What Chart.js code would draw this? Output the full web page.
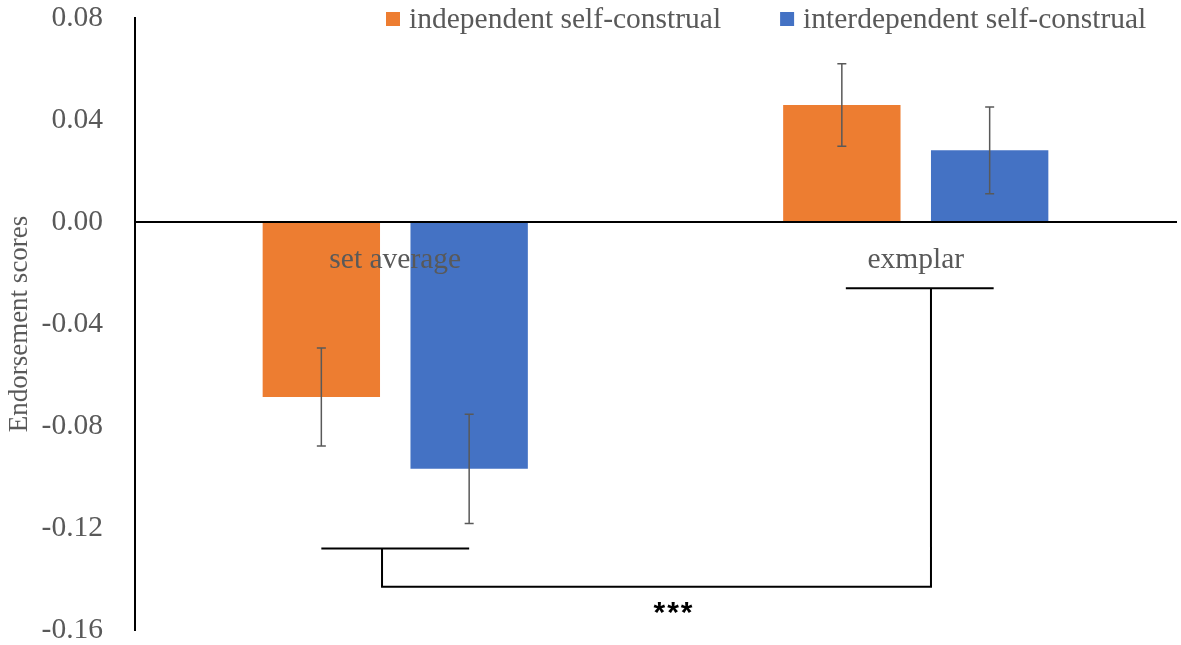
<!DOCTYPE html>
<html>
<head>
<meta charset="utf-8">
<script src="https://cdn.jsdelivr.net/npm/chart.js@4.4.1/dist/chart.umd.min.js"></script>
<style>
  html, body { margin:0; padding:0; background:#fff; }
  #wrap { width:1181px; height:645px; position:relative; }
</style>
</head>
<body>
<div id="wrap"><canvas id="chart1"></canvas></div>
<script>
// data
const categories = ["set average", "exmplar"];
const seriesNames = ["independent self-construal", "interdependent self-construal"];
const independentMeans = [-0.0686, 0.0459];
const interdependentMeans = [-0.0968, 0.0281];
const independentErrors = [0.0192, 0.0162];
const interdependentErrors = [0.0214, 0.0170];
const yTicks = [-0.16, -0.12, -0.08, -0.04, 0.00, 0.04, 0.08];

const FONT = "'Liberation Serif', 'Times New Roman', serif";
const GREY = "#595959";

// error bars
const errorBars = {
    id: "errorBars",
    afterDatasetsDraw(chart){
        const ctx = chart.ctx;
        const yScale = chart.scales.y;
        const errs = [independentErrors, interdependentErrors];
        ctx.save();
        ctx.strokeStyle = GREY;
        ctx.lineWidth = 1.5;
        chart.data.datasets.forEach((ds, d)=>{
            chart.getDatasetMeta(d).data.forEach((bar, i)=>{
                const v = ds.data[i];
                const e = errs[d][i];
                const top = yScale.getPixelForValue(v + e);
                const bot = yScale.getPixelForValue(v - e);
                ctx.beginPath();
                ctx.moveTo(bar.x, top); ctx.lineTo(bar.x, bot);
                ctx.moveTo(bar.x - 4.5, top); ctx.lineTo(bar.x + 4.5, top);
                ctx.moveTo(bar.x - 4.5, bot); ctx.lineTo(bar.x + 4.5, bot);
                ctx.stroke();
            });
        });
        ctx.restore();
    }
};

// significance bracket + legend
const extras = {
    id: "extras",
    afterDraw(chart){
        const ctx = chart.ctx;
        const y = chart.scales.y;
        const m0 = chart.getDatasetMeta(0).data;
        const m1 = chart.getDatasetMeta(1).data;

        ctx.save();
        ctx.strokeStyle = "#000";
        ctx.lineWidth = 2;

        const yA = y.getPixelForValue(-0.128);
        const yB = y.getPixelForValue(-0.026);
        const yLow = y.getPixelForValue(-0.143);
        const xA = m0[0].x + m0[0].width / 2 + 2;
        const xB = m1[1].x - m1[1].width / 2;

        ctx.beginPath();
        ctx.moveTo(m0[0].x, yA); ctx.lineTo(m1[0].x, yA);
        ctx.moveTo(m0[1].x + 4, yB); ctx.lineTo(m1[1].x + 4, yB);
        ctx.moveTo(xA, yA); ctx.lineTo(xA, yLow); ctx.lineTo(xB, yLow); ctx.lineTo(xB, yB);
        ctx.stroke();

        ctx.fillStyle = "#000";
        ctx.font = "bold 30px 'Liberation Sans', Arial, sans-serif";
        ctx.letterSpacing = "2px";
        ctx.textAlign = "center";
        ctx.textBaseline = "middle";
        ctx.fillText("***", xA + (xB - xA) * 0.53 + 1, y.getPixelForValue(-0.1537));
        ctx.letterSpacing = "0px";

        // legend
        ctx.font = "29.5px " + FONT;
        ctx.textAlign = "left";
        let lx = 386;
        const ly = 19;
        chart.data.datasets.forEach(ds=>{
            ctx.fillStyle = ds.backgroundColor;
            ctx.fillRect(lx, ly - 7, 14, 14);
            ctx.fillStyle = GREY;
            ctx.fillText(ds.label, lx + 23, ly + 1);
            lx += 23 + ctx.measureText(ds.label).width + 59;
        });
        ctx.restore();
    }
};

new Chart(
    document.getElementById("chart1"),
    {
        type:"bar",
        data:{
            labels:categories,
            datasets:[
                {
                    label:seriesNames[0],
                    data:independentMeans,
                    backgroundColor:"#ED7D31",
                    categoryPercentage:0.568,
                    barPercentage:0.794
                },
                {
                    label:seriesNames[1],
                    data:interdependentMeans,
                    backgroundColor:"#4472C4",
                    categoryPercentage:0.568,
                    barPercentage:0.794
                }
            ]
        },
        options:{
            responsive:true,
            maintainAspectRatio:false,
            animation:false,
            layout:{
                padding:{ left:4, right:5, top:18, bottom:15 }
            },
            plugins:{
                legend:{ display:false },
                tooltip:{ enabled:false }
            },
            scales:{
                x:{
                    position:{ y:0 },
                    afterFit(scale){
                        scale.height = 0;
                    },
                    grid:{ display:false },
                    border:{ display:true, color:"#000", width:2, z:1 },
                    ticks:{
                        z:1,
                        color:GREY,
                        font:{ family:FONT, size:29.5 },
                        padding:13
                    }
                },
                y:{
                    min:-0.16,
                    max:0.08,
                    afterBuildTicks(scale){
                        scale.ticks = yTicks.map(v=>({ value:v }));
                    },
                    afterFit(scale){
                        scale.width = 131;
                        scale.paddingTop = 0;
                        scale.paddingBottom = 0;
                    },
                    grid:{ display:false },
                    border:{ display:true, color:"#000", width:2 },
                    ticks:{
                        color:GREY,
                        font:{ family:FONT, size:29.5 },
                        padding:24,
                        callback:v=> Math.abs(v) < 1e-9 ? "0.00" : v.toFixed(2)
                    },
                    title:{
                        display:true,
                        text:"Endorsement scores",
                        color:GREY,
                        font:{ family:FONT, size:27 },
                        padding:{ top:0, bottom:0 }
                    }
                }
            }
        },
        plugins:[errorBars, extras]
    }
);
</script>
</body>
</html>
